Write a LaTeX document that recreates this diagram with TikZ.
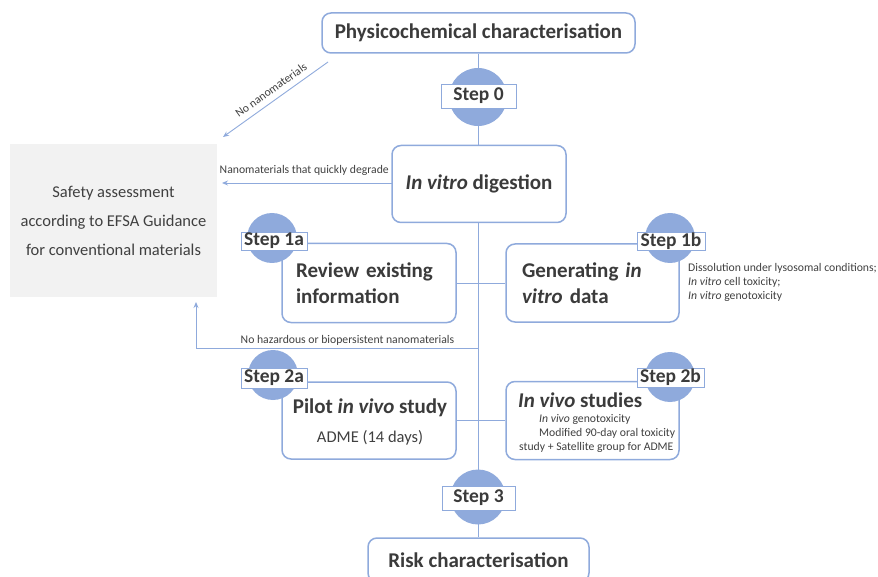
\documentclass[tikz,border=0pt]{standalone}
\usepackage{fontspec}
\setmainfont{Carlito}
\usetikzlibrary{arrows.meta,backgrounds}
\definecolor{lblue}{HTML}{8FAADC}
\definecolor{cblue}{HTML}{8FAADC}
\definecolor{tdark}{HTML}{3B3B3B}
\definecolor{tgray}{HTML}{404040}
\definecolor{sgray}{HTML}{F2F2F2}
\begin{document}
\begin{tikzpicture}[x=1pt,y=-1pt,
 box/.style={draw=lblue, line width=1.5pt, rounded corners=9pt, fill=white, text=tdark, inner sep=0pt},
 conn/.style={draw=lblue, line width=0.9pt},
 arr/.style={conn, -{Stealth[length=6pt,width=5pt]}},
 stepcirc/.style={circle, fill=cblue, inner sep=0pt},
 steplbl/.style={draw=lblue, line width=0.7pt, fill=white, text=tdark, font=\bfseries\fontsize{19.5}{19.5}\selectfont, inner sep=0pt},
 small/.style={text=tgray, font=\fontsize{11.7}{14}\selectfont, inner sep=0pt},
 ttl/.style={font=\bfseries\fontsize{21}{26}\selectfont, text=tdark}]
\useasboundingbox (0,0) rectangle (878,577);
\clip (0,0) rectangle (878,577);

% boxes
\node[box, ttl, minimum width=313pt, minimum height=40pt] (phys) at (478.5,33) {Physicochemical characterisation};
\node[box, ttl, minimum width=174pt, minimum height=77pt] (dig) at (479,184) {\textit{In vitro} digestion};
\node[fill=sgray, text=tgray, minimum width=207pt, minimum height=153pt, inner sep=0pt, align=center, font=\fontsize{16.5}{29}\selectfont] (safe) at (113.5,220.5) {Safety assessment\\according to EFSA Guidance\\for conventional materials};
\node[box, ttl, text width=146pt, inner xsep=14pt, align=left, minimum height=79pt] (rev) at (369,283) {Review existing\\information};
\node[box, ttl, text width=141pt, inner xsep=16pt, align=left, minimum height=78pt] (gen) at (592.5,283) {Generating \textit{in}\\\textit{vitro} data};
\node[box, minimum width=174pt, minimum height=77pt] (pil) at (369,420.5) {};
\node[box, minimum width=173pt, minimum height=78pt] (viv) at (592.5,420.5) {};
\node[box, ttl, minimum width=221pt, minimum height=44pt] (risk) at (478.5,560) {Risk characterisation};

% texts inside pilot / in vivo
\node[ttl, inner sep=0pt] (pilt) at (370,408) {Pilot \textit{in vivo} study};
\node[text=tgray, font=\fontsize{16.5}{18}\selectfont, inner sep=0pt] (adme) at (370,438) {ADME (14 days)};
\node[ttl, inner sep=0pt, anchor=west] (vivt) at (518,400) {\textit{In vivo} studies};
\node[small, anchor=west] (viv1) at (539,419) {\textit{In vivo} genotoxicity};
\node[small, anchor=west] (viv2) at (539,433) {Modified 90-day oral toxicity};
\node[small, anchor=west] (viv3) at (519,447) {study + Satellite group for ADME};

% step circles
\node[stepcirc, minimum size=58pt] (c0) at (478,97) {};
\node[stepcirc, minimum size=50pt] (c1a) at (272,238) {};
\node[stepcirc, minimum size=50pt] (c1b) at (670,238) {};
\node[stepcirc, minimum size=50pt] (c2a) at (273,375) {};
\node[stepcirc, minimum size=50pt] (c2b) at (670,377) {};
\node[stepcirc, minimum size=55pt] (c3) at (478,497) {};

% step labels
\node[steplbl, minimum width=75pt, minimum height=24pt] (s0) at (478.5,96) {Step 0};
\node[steplbl, minimum width=66pt, minimum height=18pt] (s1a) at (274,241) {Step 1a};
\node[steplbl, minimum width=68pt, minimum height=18pt] (s1b) at (671,241) {Step 1b};
\node[steplbl, minimum width=66pt, minimum height=20pt] (s2a) at (274,378) {Step 2a};
\node[steplbl, minimum width=67pt, minimum height=19pt] (s2b) at (670.5,377.5) {Step 2b};
\node[steplbl, minimum width=73pt, minimum height=24pt] (s3) at (478.5,498) {Step 3};

% free coordinates
\coordinate (nnA) at (328,62);
\coordinate (nnB) at (223,137);
\coordinate (hzC) at (478,348);
\coordinate (hzL) at (196,348);
\coordinate (hzT) at (196,302);
\coordinate (qdE) at (222,183);
\coordinate (qdS) at (392,183);

% connectors behind
\begin{scope}[on background layer]
\draw[conn] (phys.south) -- (risk.north);
\draw[conn] (rev.east) -- (gen.west);
\draw[conn] (pil.east) -- (viv.west);
\draw[conn] (hzC) -- (hzL);
\end{scope}
\draw[arr] (hzL) -- (hzT);
\draw[arr] (qdS) -- (qdE);
\draw[arr] (nnA) -- (nnB);

% labels
\node[small, anchor=east] (lqd) at (389,170) {Nanomaterials that quickly degrade};
\node[small] (lhz) at (347.5,340) {No hazardous or biopersistent nanomaterials};
\node[small, rotate=35.5] (lnn) at (271,90) {No nanomaterials};
\node[small, anchor=north west, align=left] (l1b) at (688,263) {Dissolution under lysosomal conditions;\\\textit{In vitro} cell toxicity;\\\textit{In vitro} genotoxicity};
\end{tikzpicture}
\end{document}
